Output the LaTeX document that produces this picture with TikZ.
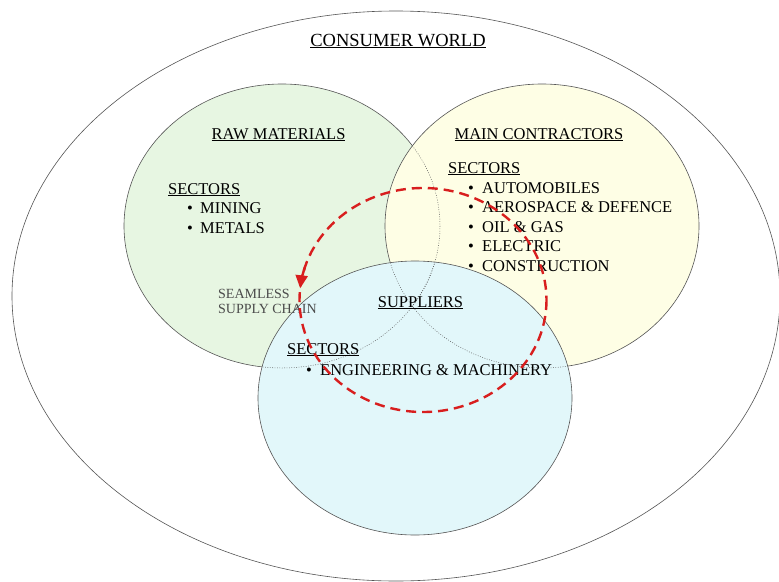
\documentclass[tikz,border=0pt]{standalone}
\usepackage{fontspec}
\setmainfont{Liberation Serif}
\usetikzlibrary{arrows.meta}
\definecolor{greenfill}{RGB}{231,246,226}
\definecolor{yellowfill}{RGB}{254,254,229}
\definecolor{bluefill}{RGB}{226,247,250}
\definecolor{outline}{RGB}{85,85,85}
\definecolor{arrowred}{RGB}{216,30,30}
\definecolor{seamgray}{RGB}{75,75,75}
\begin{document}
\begin{tikzpicture}[x=1pt,y=-1pt,
  ring/.style={draw=outline,line width=0.6pt},
  hidden/.style={draw=outline,line width=0.5pt,dash pattern=on 0.8pt off 1.6pt},
  lbl/.style={inner sep=0pt,font=\fontsize{16.5}{18}\selectfont},
  head/.style={lbl,anchor=base},
  item/.style={lbl,anchor=base west},
  bul/.style={lbl,anchor=base},
  seam/.style={inner sep=0pt,anchor=base west,text=seamgray,font=\fontsize{14}{16}\selectfont},
  flow/.style={draw=arrowred,line width=2.4pt,dash pattern=on 10pt off 6pt}
]
\useasboundingbox (0,0) rectangle (779,581);
\fill[white] (0,0) rectangle (779,581);
% outer world
\draw[ring] (396,296) ellipse [x radius=384, y radius=285];
% the three sets
\path[ring,fill=greenfill] (282,226) ellipse [x radius=158, y radius=142];
\path[ring,fill=yellowfill] (542,226) ellipse [x radius=157, y radius=142];
\path[ring,fill=bluefill] (415,398) ellipse [x radius=157, y radius=137];
% hidden outline parts
\begin{scope}
  \clip (542,226) ellipse [x radius=157, y radius=142];
  \draw[hidden] (282,226) ellipse [x radius=158, y radius=142];
\end{scope}
\begin{scope}
  \clip (415,398) ellipse [x radius=157, y radius=137];
  \draw[hidden] (282,226) ellipse [x radius=158, y radius=142];
  \draw[hidden] (542,226) ellipse [x radius=157, y radius=142];
\end{scope}
% texts
\node[head,font=\fontsize{18.5}{20}\selectfont] (world) at (398,46) {\underline{CONSUMER WORLD}};
\node[head] (raw) at (278.5,139) {\underline{RAW MATERIALS}};
\node[item] (rawsec) at (168,194) {\underline{SECTORS}};
\node[bul] (b1) at (190,213) {•};
\node[item] (mining) at (200,213) {MINING};
\node[bul] (b2) at (190,233) {•};
\node[item] (metals) at (200,233) {METALS};

\node[head] (main) at (539,139) {\underline{MAIN CONTRACTORS}};
\node[item] (mainsec) at (448,173) {\underline{SECTORS}};
\node[bul] (b3) at (471,193) {•};
\node[item] (auto) at (482,193) {AUTOMOBILES};
\node[bul] (b4) at (471,212.5) {•};
\node[item] (aero) at (482,212.5) {AEROSPACE \& DEFENCE};
\node[bul] (b5) at (471,232) {•};
\node[item] (oil) at (482,232) {OIL \& GAS};
\node[bul] (b6) at (471,251.5) {•};
\node[item] (elec) at (482,251.5) {ELECTRIC};
\node[bul] (b7) at (471,271) {•};
\node[item] (constr) at (482,271) {CONSTRUCTION};

\node[head] (supp) at (420.5,307) {\underline{SUPPLIERS}};
\node[item] (suppsec) at (287,354) {\underline{SECTORS}};
\node[bul] (b8) at (309,375) {•};
\node[item] (eng) at (320,375) {ENGINEERING \& MACHINERY};

\node[seam] (seam1) at (218,298) {SEAMLESS};
\node[seam] (seam2) at (218,313.5) {SUPPLY CHAIN};
% seamless supply chain loop
\draw[flow] (423,300) ellipse [x radius=123.5, y radius=112];
\draw[draw=arrowred,line width=2.4pt,-{Triangle[length=13pt,width=12pt]}]
  (423,300) ++(197:123.5 and 112) arc [start angle=197, end angle=186, x radius=123.5, y radius=112];
\end{tikzpicture}
\end{document}
